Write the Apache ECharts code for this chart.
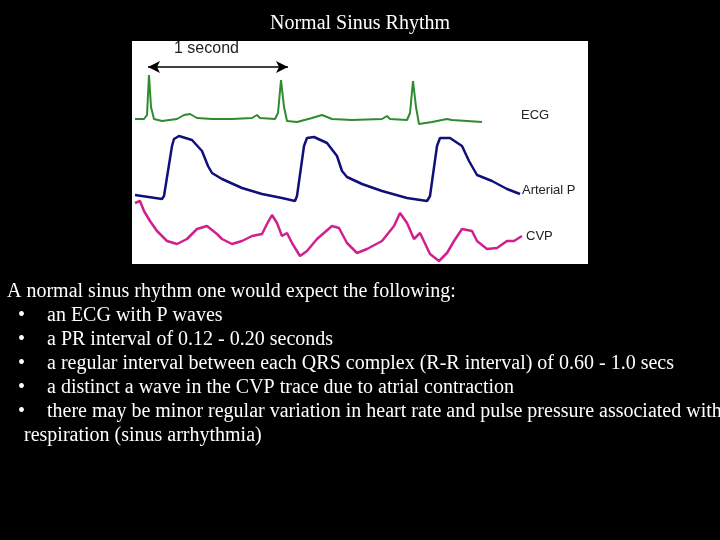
<!DOCTYPE html>
<html>
<head>
<meta charset="utf-8">
<script src="https://cdn.jsdelivr.net/npm/echarts@6/dist/echarts.min.js"></script>
<style>html,body{margin:0;background:#000}#main{width:720px;height:540px}</style>
</head>
<body>
<div id="main"></div>
<script>
// traces in panel units: x = time (px across the strip), y = depth from strip top
const ecg = [[3,78],[12,78],[15,74],[17,34],[19,66],[22,78],[30,80],[45,78],[52,74],[58,73],[65,77],[80,78],[100,78],[120,77],[125,74],[128,77],[143,78],[146,72],[149,39],[152,66],[155,80],[165,81],[180,77],[190,74],[200,78],[220,79],[250,78],[255,75],[258,78],[275,79],[278,72],[281,40],[284,66],[287,83],[300,81],[315,78],[320,79],[335,80],[350,81]];
const arterial = [[3,154],[30,158],[32,155],[40,105],[42,98],[47,95],[60,99],[70,110],[76,125],[80,132],[90,138],[110,147],[130,153],[150,157],[163,160],[165,155],[172,105],[175,97],[182,96],[195,102],[205,115],[210,130],[215,136],[230,143],[250,150],[275,157],[295,160],[298,155],[305,105],[308,97],[318,97],[330,105],[337,120],[345,134],[360,140],[375,148],[388,153]];
const cvp = [[3,162],[8,160],[12,170],[18,180],[25,190],[35,200],[45,203],[55,198],[65,188],[75,185],[85,193],[90,198],[100,203],[110,200],[120,195],[130,193],[135,183],[140,174],[145,182],[150,195],[155,192],[160,202],[168,215],[175,210],[185,198],[200,185],[207,187],[215,202],[225,212],[235,208],[250,200],[262,185],[268,172],[275,182],[282,198],[288,192],[298,213],[307,220],[315,212],[322,200],[330,188],[340,190],[345,200],[355,208],[365,207],[375,200],[382,200],[390,195]];
const secondMark = [16, 156];
const bodyLines = [
  'A normal sinus rhythm one would expect the following:',
  'an ECG with P waves',
  'a PR interval of 0.12 - 0.20 seconds',
  'a regular interval between each QRS complex (R-R interval) of 0.60 - 1.0 secs',
  'a distinct a wave in the CVP trace due to atrial contraction',
  'there may be minor regular variation in heart rate and pulse pressure associated with',
  'respiration (sinus arrhythmia)'
];

const serif = '"Liberation Serif", "Times New Roman", serif';
const sans = '"Liberation Sans", Arial, sans-serif';
const graphic = [
  { type: 'rect', z: -1, shape: { x: 132, y: 41, width: 456, height: 223 }, style: { fill: '#fff' } },
  { type: 'text', left: 'center', top: 14, style: { text: 'Normal Sinus Rhythm', fill: '#fff', font: '20px ' + serif } },
  { type: 'text', x: 174, y: 41, style: { text: '1 second', fill: '#222', font: '16px ' + sans } },
  { type: 'text', x: 521, y: 109, style: { text: 'ECG', fill: '#222', font: '13px ' + sans } },
  { type: 'text', x: 522, y: 184, style: { text: 'Arterial P', fill: '#222', font: '13px ' + sans } },
  { type: 'text', x: 526, y: 230, style: { text: 'CVP', fill: '#222', font: '13px ' + sans } }
];
bodyLines.forEach((t, i) => {
  const bullet = i > 0 && i < bodyLines.length - 1;
  const y = 282 + i * 24;
  if (bullet) graphic.push({ type: 'text', x: 18, y: y, style: { text: '•', fill: '#fff', font: '20px ' + serif } });
  graphic.push({ type: 'text', x: i === 0 ? 7 : (bullet ? 47 : 24), y: y, style: { text: t, fill: '#fff', font: '20px ' + serif } });
});

const chart = echarts.init(document.getElementById('main'));
chart.setOption({
  backgroundColor: '#000',
  animation: false,
  grid: { left: 132, top: 41, width: 456, height: 223 },
  xAxis: { type: 'value', min: 0, max: 456, show: false },
  yAxis: { type: 'value', min: 0, max: 223, inverse: true, show: false },
  graphic: graphic,
  series: [
    { type: 'line', data: ecg, symbol: 'none', lineStyle: { color: '#2e8b2e', width: 2 },
      markLine: { silent: true, symbol: ['arrow', 'arrow'], symbolSize: [9, 12], label: { show: false },
        lineStyle: { color: '#000', width: 1.5, type: 'solid' },
        data: [[{ coord: [secondMark[0], 26] }, { coord: [secondMark[1], 26] }]] } },
    { type: 'line', data: arterial, symbol: 'none', lineStyle: { color: '#10107a', width: 2.5 } },
    { type: 'line', data: cvp, symbol: 'none', lineStyle: { color: '#d0208f', width: 2.5 } }
  ]
});
</script>
</body>
</html>
